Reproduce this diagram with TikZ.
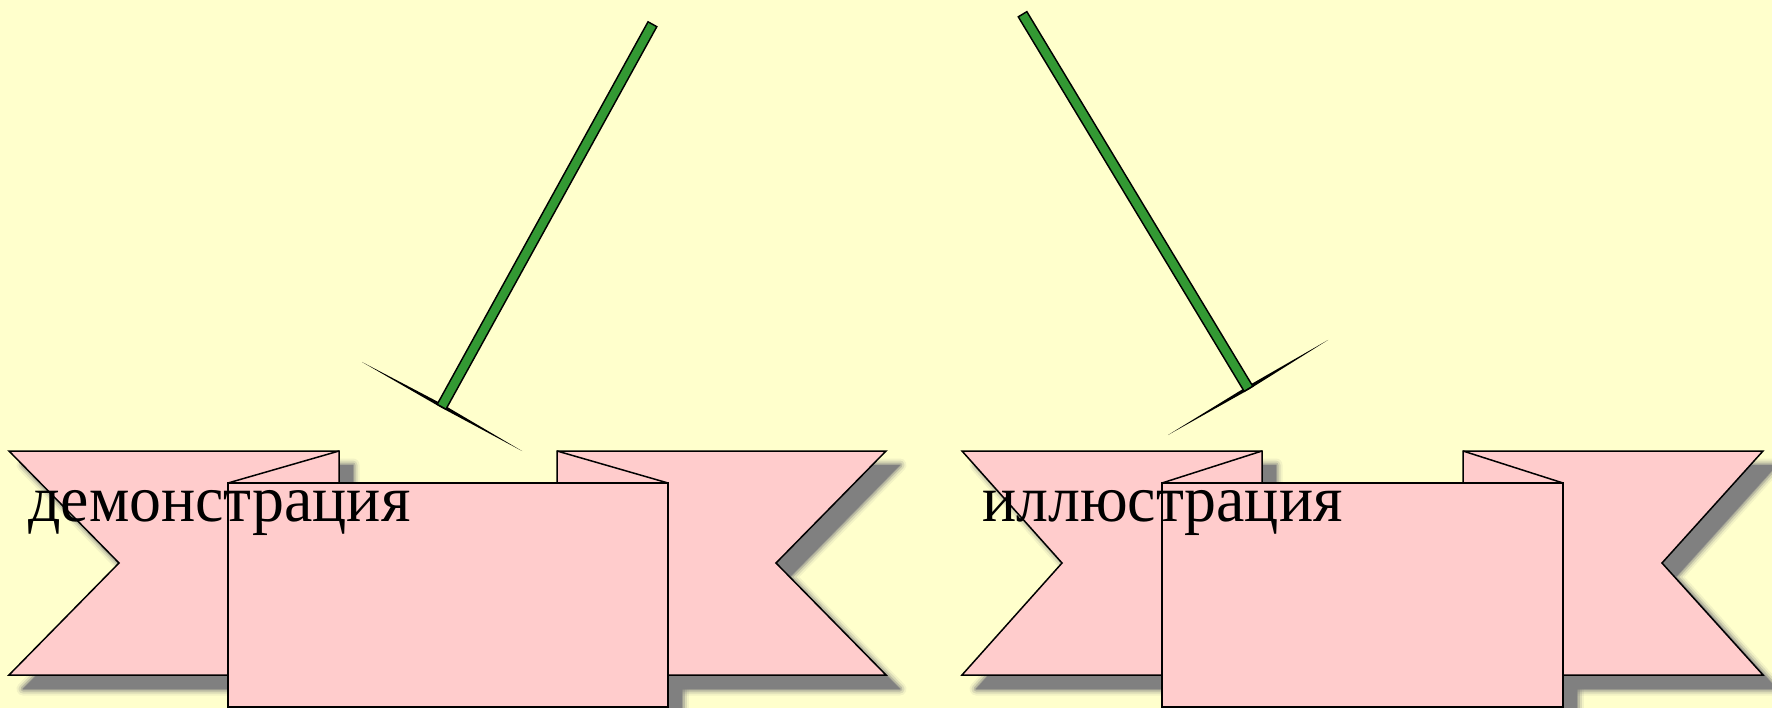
\documentclass[tikz,border=0pt]{standalone}
\usepackage{fontspec}
\setmainfont{Liberation Serif}
\newfontfamily\lblfont[FakeStretch=0.967]{Liberation Serif}
\usetikzlibrary{calc}
\definecolor{bgyellow}{HTML}{FFFFCC}
\definecolor{ribpink}{HTML}{FFCCCC}
\definecolor{stickgreen}{HTML}{339933}
\definecolor{shadowgray}{HTML}{808080}
\newcommand\ribshadow[1]{%
  \begin{scope}[shift={(14,14)}]
    \draw[shadowgray, line width=13pt, opacity=0.10, line join=round] #1;
    \draw[shadowgray, line width=9pt, opacity=0.20, line join=round] #1;
    \draw[shadowgray, line width=5pt, opacity=0.35, line join=round] #1;
    \draw[shadowgray, line width=1.5pt, opacity=0.5, line join=round] #1;
    \fill[shadowgray] #1;
  \end{scope}}
\begin{document}
\begin{tikzpicture}[x=1pt,y=-1pt,
  rib/.style={fill=ribpink, draw=black, line width=1.5pt, line join=miter},
  fold/.style={draw=black, line width=1.5pt},
  stickout/.style={draw=black, line width=11.5pt, line cap=butt, shorten <=-1.6pt, shorten >=-1.6pt},
  stickin/.style={draw=stickgreen, line width=8.3pt, line cap=butt},
  bar/.style={fill=black, draw=none},
  lbl/.style={anchor=base west, inner sep=0pt, font=\lblfont\fontsize{66}{72}\selectfont}
]
\useasboundingbox (0,0) rectangle (1772,708);
\clip (0,0) rectangle (1772,708);
\fill[bgyellow] (0,0) rectangle (1772,708);

% ---- shadows (left ribbon)
\ribshadow{(9,451) -- (339,451) -- (339,675) -- (9,675) -- (119,563) -- cycle}
\ribshadow{(557,451) -- (886,451) -- (776,563) -- (886,675) -- (557,675) -- cycle}
\ribshadow{(228,483) rectangle (668,707)}
% ---- shadows (right ribbon)
\ribshadow{(962,451) -- (1262,451) -- (1262,675) -- (962,675) -- (1062,563) -- cycle}
\ribshadow{(1463,451) -- (1763,451) -- (1662,563) -- (1763,675) -- (1463,675) -- cycle}
\ribshadow{(1162,483) rectangle (1563,707)}

% ---- left ribbon
\path[rib] (9,451) -- (339,451) -- (339,675) -- (9,675) -- (119,563) -- cycle;
\path[rib] (557,451) -- (886,451) -- (776,563) -- (886,675) -- (557,675) -- cycle;
\path[rib] (228,483) rectangle (668,707);
\draw[fold] (339,451) -- (228,483);
\draw[fold] (557,451) -- (668,483);

% ---- right ribbon
\path[rib] (962,451) -- (1262,451) -- (1262,675) -- (962,675) -- (1062,563) -- cycle;
\path[rib] (1463,451) -- (1763,451) -- (1662,563) -- (1763,675) -- (1463,675) -- cycle;
\path[rib] (1162,483) rectangle (1563,707);
\draw[fold] (1262,451) -- (1162,483);
\draw[fold] (1463,451) -- (1563,483);

% ---- sticks
\coordinate (s1t) at (652,25);
\coordinate (s1b) at (442,406);
\coordinate (c1l) at (362,362);
\coordinate (c1r) at (522,451);
\coordinate (s2t) at (1023,15);
\coordinate (s2b) at (1248,388);
\coordinate (c2l) at (1168,435);
\coordinate (c2r) at (1328,340);

\fill[bar] (c1l) -- ($(s1b)!1.8pt!90:(c1r)$) -- (c1r) -- ($(s1b)!1.8pt!-90:(c1r)$) -- cycle;
\fill[bar] (c2l) -- ($(s2b)!1.8pt!90:(c2r)$) -- (c2r) -- ($(s2b)!1.8pt!-90:(c2r)$) -- cycle;
\draw[stickout] (s1b) -- (s1t);
\draw[stickin] (s1b) -- (s1t);
\draw[stickout] (s2b) -- (s2t);
\draw[stickin] (s2b) -- (s2t);

% ---- labels
\node[lbl] (t1) at (28,521) {демонстрация};
\node[lbl] (t2) at (982,521) {иллюстрация};
\end{tikzpicture}
\end{document}
